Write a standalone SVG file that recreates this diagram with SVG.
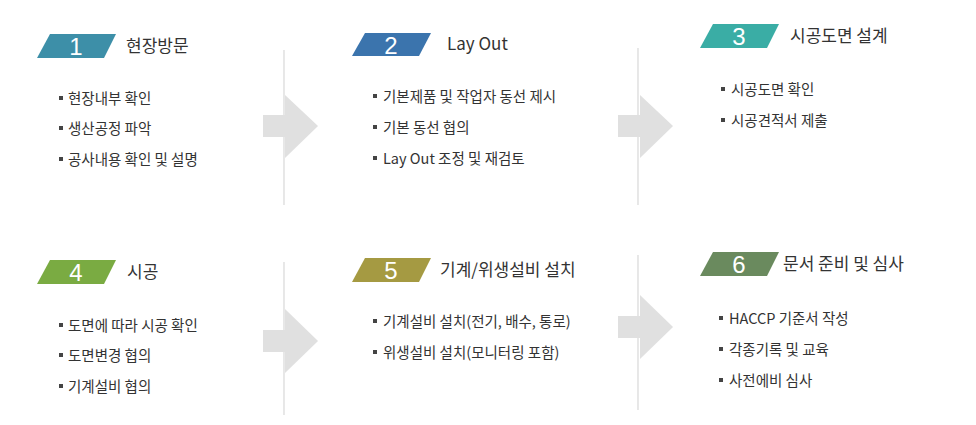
<svg xmlns="http://www.w3.org/2000/svg" width="976" height="425" viewBox="0 0 976 425">
<style>
text{font-family:"Noto Sans CJK KR","Noto Sans",sans-serif;fill:#333}
.n{font-family:"Liberation Sans",sans-serif;font-size:24px;fill:#fff;text-anchor:middle}
.t{font-size:17px}
.b{font-size:14.5px}
.d{stroke:#d8d8d8;stroke-width:1.2}
.a{fill:#e0e0e0}
.sq{fill:#444}
</style>
<rect width="976" height="425" fill="#fff"/>
<g id="connectors">
<line class="d" x1="284" y1="50" x2="284" y2="205"/>
<line class="d" x1="638" y1="48" x2="638" y2="205"/>
<line class="d" x1="284" y1="262" x2="284" y2="415"/>
<line class="d" x1="638" y1="255" x2="638" y2="410"/>
<polygon class="a" points="263,115 285,115 285,95 318,126 285,158 285,137 263,137"/>
<polygon class="a" points="618,115 640,115 640,95 673,126 640,158 640,137 618,137"/>
<polygon class="a" points="263,330 285,330 285,309 318,341 285,373 285,352 263,352"/>
<polygon class="a" points="618,316 640,316 640,295 673,327 640,359 640,338 618,338"/>
</g>
<g id="node1">
<polygon points="50,34 116,34 104,58 37,58" fill="#3d8fa8"/>
<text class="n" x="76" y="55">1</text>
<text class="t" x="126" y="52">현장방문</text>
<rect class="sq" x="59" y="96" width="4" height="4"/><text class="b" x="68" y="104">현장내부 확인</text>
<rect class="sq" x="59" y="126" width="4" height="4"/><text class="b" x="68" y="134">생산공정 파악</text>
<rect class="sq" x="59" y="157" width="4" height="4"/><text class="b" x="68" y="165">공사내용 확인 및 설명</text>
</g>
<g id="node2">
<polygon points="365,33 431,33 419,56 352,56" fill="#3b74ad"/>
<text class="n" x="391" y="54">2</text>
<text class="t" x="447" y="50">Lay Out</text>
<rect class="sq" x="373" y="94" width="4" height="4"/><text class="b" x="383" y="102">기본제품 및 작업자 동선 제시</text>
<rect class="sq" x="373" y="125" width="4" height="4"/><text class="b" x="383" y="133">기본 동선 협의</text>
<rect class="sq" x="373" y="156" width="4" height="4"/><text class="b" x="383" y="164">Lay Out 조정 및 재검토</text>
</g>
<g id="node3">
<polygon points="713,24 779,24 767,48 700,48" fill="#3aada5"/>
<text class="n" x="739" y="45">3</text>
<text class="t" x="790" y="42">시공도면 설계</text>
<rect class="sq" x="721" y="87" width="4" height="4"/><text class="b" x="731" y="95">시공도면 확인</text>
<rect class="sq" x="721" y="118" width="4" height="4"/><text class="b" x="731" y="126">시공견적서 제출</text>
</g>
<g id="node4">
<polygon points="50,260 116,260 104,284 37,284" fill="#7aab42"/>
<text class="n" x="76" y="281">4</text>
<text class="t" x="127" y="278">시공</text>
<rect class="sq" x="59" y="323" width="4" height="4"/><text class="b" x="68" y="331">도면에 따라 시공 확인</text>
<rect class="sq" x="59" y="353" width="4" height="4"/><text class="b" x="68" y="361">도면변경 협의</text>
<rect class="sq" x="59" y="384" width="4" height="4"/><text class="b" x="68" y="392">기계설비 협의</text>
</g>
<g id="node5">
<polygon points="365,258 431,258 419,282 352,282" fill="#a59a42"/>
<text class="n" x="391" y="279">5</text>
<text class="t" x="440" y="276">기계/위생설비 설치</text>
<rect class="sq" x="373" y="319" width="4" height="4"/><text class="b" x="383" y="327">기계설비 설치(전기, 배수, 통로)</text>
<rect class="sq" x="373" y="350" width="4" height="4"/><text class="b" x="383" y="358">위생설비 설치(모니터링 포함)</text>
</g>
<g id="node6">
<polygon points="713,252 779,252 767,276 700,276" fill="#6a8a5e"/>
<text class="n" x="739" y="273">6</text>
<text class="t" x="783" y="270">문서 준비 및 심사</text>
<rect class="sq" x="719" y="316" width="4" height="4"/><text class="b" x="729" y="324">HACCP 기준서 작성</text>
<rect class="sq" x="719" y="347" width="4" height="4"/><text class="b" x="729" y="355">각종기록 및 교육</text>
<rect class="sq" x="719" y="378" width="4" height="4"/><text class="b" x="729" y="386">사전에비 심사</text>
</g>
</svg>
